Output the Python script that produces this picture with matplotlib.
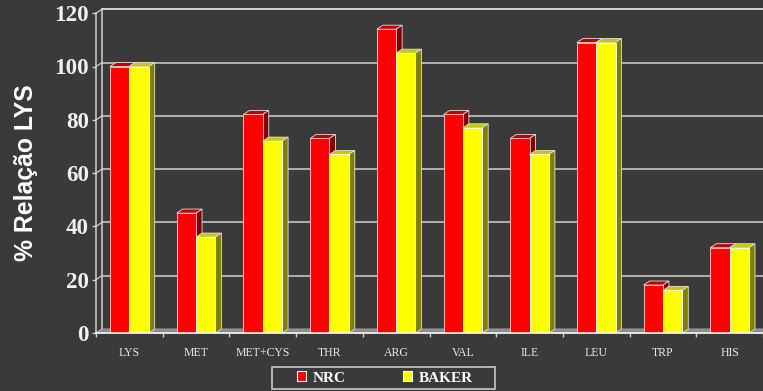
import matplotlib
matplotlib.use("Agg")
import matplotlib.pyplot as plt
from matplotlib.patches import Polygon, Patch, Rectangle

# Amino acid ratios relative to lysine (%)
categories = ["LYS", "MET", "MET+CYS", "THR", "ARG", "VAL", "ILE", "LEU", "TRP", "HIS"]
nrc = [100, 45, 82, 73, 114, 82, 73, 109, 18, 32]
baker = [100, 36, 72, 67, 105, 77, 67, 109, 16, 32]
series_names = ["NRC", "BAKER"]
y_ticks = [0, 20, 40, 60, 80, 100, 120]

BG = "#3a3a3a"
W, H, DPI = 763, 391, 100
fig = plt.figure(figsize=(W / DPI, H / DPI), dpi=DPI, facecolor=BG)

# front plane of the plot box, in pixels
left_px, right_px, base_px, top_px = 96, 763, 333, 13.2
ax = fig.add_axes([left_px / W, (H - base_px) / H,
                   (right_px - left_px) / W, (base_px - top_px) / H])
ax.set_facecolor("none")
n = len(categories)
ax.set_xlim(-0.5, n - 0.5)
ax.set_ylim(0, 120)

# depth offset of the pseudo-3D view
px_x = (right_px - left_px) / n
px_y = (base_px - top_px) / 120
dx = 6 / px_x
dy = 4 / px_y

line_col = "#d0d0d0"

# back wall gridlines and left wall connectors
for v in y_ticks:
    col = "white" if v == 120 else line_col
    if v > 0:
        ax.plot([-0.5 + dx, n - 0.5 + dx + 0.2], [v + dy, v + dy], color=col,
                lw=1.1, clip_on=False, zorder=1)
    ax.plot([-0.5, -0.5 + dx], [v, v + dy], color=line_col, lw=0.9,
            clip_on=False, zorder=1)
ax.plot([-0.5 + dx, -0.5 + dx], [dy, 120 + dy], color=line_col, lw=1.1,
        clip_on=False, zorder=1)

# floor
floor = Polygon([(-0.5, 0), (n - 0.5, 0), (n - 0.5 + dx, dy), (-0.5 + dx, dy)],
                closed=True, facecolor="#8a8a8a", edgecolor="#b0b0b0", lw=0.6,
                clip_on=False, zorder=1.5)
ax.add_patch(floor)

bw = 0.29
styles = [
    dict(front="#ff0000", top="#c00000", side="#800000", edge="#ffb0b0"),
    dict(front="#ffff00", top="#c8c800", side="#808000", edge="#ffffe0"),
]
offsets = [-bw / 2, bw / 2]

for k, (vals, st) in enumerate(zip([nrc, baker], styles)):
    xs = [i + offsets[k] for i in range(n)]
    z = 3 + k
    ax.bar(xs, vals, width=bw, color=st["front"], edgecolor=st["edge"],
           lw=0.7, zorder=z + 0.5, label=series_names[k])
    for x, h in zip(xs, vals):
        x0, x1 = x - bw / 2, x + bw / 2
        top = Polygon([(x0, h), (x1, h), (x1 + dx, h + dy), (x0 + dx, h + dy)],
                      closed=True, facecolor=st["top"], edgecolor="#e0e0e0",
                      lw=0.6, clip_on=False, zorder=z)
        side = Polygon([(x1, 0), (x1 + dx, dy), (x1 + dx, h + dy), (x1, h)],
                       closed=True, facecolor=st["side"], edgecolor="#e0e0e0",
                       lw=0.6, clip_on=False, zorder=z)
        ax.add_patch(top)
        ax.add_patch(side)

# axes styling
for s in ["top", "right"]:
    ax.spines[s].set_visible(False)
ax.spines["left"].set_color(line_col)
ax.spines["left"].set_linewidth(1.1)
ax.spines["bottom"].set_color("white")
ax.spines["bottom"].set_linewidth(1.1)
ax.spines["bottom"].set_zorder(6)

ax.set_yticks(y_ticks)
ax.set_yticklabels([str(v) for v in y_ticks], fontfamily="Liberation Serif",
                   fontweight="bold", fontsize=16.6, color="#f0f0f0")
ax.tick_params(axis="y", length=3, width=1, color=line_col, pad=2)

ax.set_xticks(range(n))
ax.set_xticklabels(categories, fontfamily="Liberation Serif", fontsize=8.5,
                   color="#e8e8e8")
ax.set_xticks([i - 0.5 for i in range(n + 1)], minor=True)
ax.tick_params(axis="x", which="major", length=0, pad=10)
ax.tick_params(axis="x", which="minor", length=3, width=1, color=line_col)

ax.set_ylabel("% Relação LYS", fontfamily="Liberation Sans", fontweight="bold",
              fontsize=17.8, color="white", labelpad=12)

# legend box
box = Rectangle((272 / W, 1 - 389 / H), 223 / W, 22 / H, transform=fig.transFigure,
                facecolor="none", edgecolor="#c8c8c8", lw=1.2)
fig.add_artist(box)

handles = [Patch(facecolor=st["front"], edgecolor="white", lw=0.8) for st in styles]
leg = fig.legend(handles, series_names, loc="center", ncol=2,
                 bbox_to_anchor=(385 / W, 1 - 378 / H),
                 prop=dict(family="Liberation Serif", weight="bold", size=11),
                 handlelength=0.58, handleheight=0.58, handletextpad=0.45,
                 columnspacing=3.8, borderpad=0.2, borderaxespad=0,
                 frameon=False)
for t in leg.get_texts():
    t.set_color("white")

fig.savefig("out.png", dpi=DPI, facecolor=BG)
